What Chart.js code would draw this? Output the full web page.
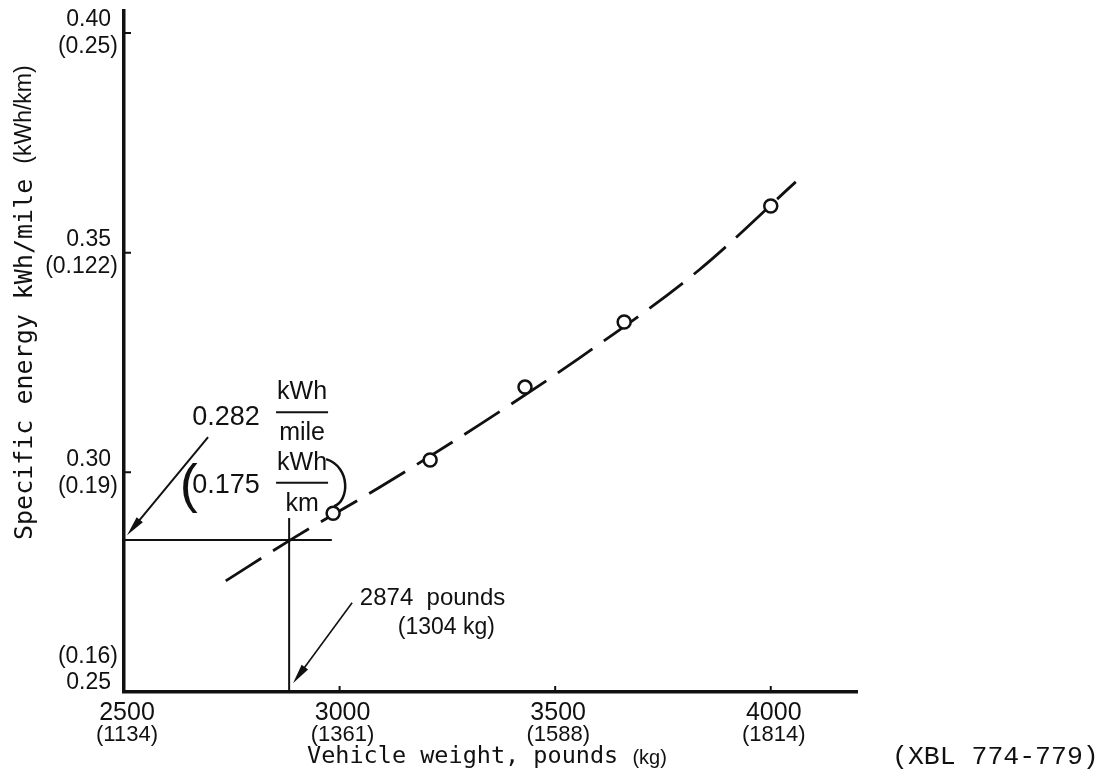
<!DOCTYPE html>
<html>
<head>
<meta charset="utf-8">
<script src="https://cdn.jsdelivr.net/npm/chart.js@4.4.1/dist/chart.umd.min.js"></script>
<style>
    html, body { margin: 0; padding: 0; background: #fff; }
    #wrap { width: 1104px; height: 780px; }
</style>
</head>
<body>
<div id="wrap"><canvas id="chart"></canvas></div>
<script>
// test points: vehicle weight (pounds) vs specific energy (kWh/mile)
const weights = [2985, 3210, 3430, 3660, 4000]
const energy = [0.2907, 0.3028, 0.3194, 0.3342, 0.3606]

// dashed fitted curve
const curveWeights = [2736, 2889, 3093, 3324, 3556, 3833, 4058]
const curveEnergy = [0.2753, 0.2848, 0.2966, 0.3108, 0.3260, 0.3460, 0.3661]

// axis ticks
const xTicks = [2500, 3000, 3500, 4000]
const xTicksKg = ['(1134)', '(1361)', '(1588)', '(1814)']
const yTicks = [0.25, 0.30, 0.35, 0.40]
const yTickLabels = ['0.25', '0.30', '0.35', '0.40']
const yTicksKm = ['(0.16)', '(0.19)', '(0.122)', '(0.25)']

// read-off lines for the design weight
const crossWeight = 2883
const crossEnergy = 0.2846
const crossLineEnd = 2982
const crossLineTop = 0.2896

const SANS = '"Liberation Sans", Arial, sans-serif'
const MONO = '"DejaVu Sans Mono", "Liberation Mono", monospace'
const TYPE = '"Liberation Mono", monospace'

function arrow(ctx, x1, y1, x2, y2) {
    const a = Math.atan2(y2 - y1, x2 - x1)
    const len = 20, half = 4
    ctx.beginPath()
    ctx.moveTo(x1, y1)
    ctx.lineTo(x2 - Math.cos(a) * len * 0.8, y2 - Math.sin(a) * len * 0.8)
    ctx.stroke()
    ctx.beginPath()
    ctx.moveTo(x2, y2)
    ctx.lineTo(x2 - Math.cos(a) * len - Math.sin(a) * half, y2 - Math.sin(a) * len + Math.cos(a) * half)
    ctx.lineTo(x2 - Math.cos(a) * len + Math.sin(a) * half, y2 - Math.sin(a) * len - Math.cos(a) * half)
    ctx.closePath()
    ctx.fill()
}

function fraction(ctx, cx, barY, top, bottom) {
    ctx.font = '25px ' + SANS
    ctx.textAlign = 'center'
    ctx.textBaseline = 'middle'
    ctx.fillText(top, cx, barY - 20)
    ctx.fillText(bottom, cx, barY + 21)
    ctx.lineWidth = 2
    ctx.beginPath()
    ctx.moveTo(cx - 26, barY)
    ctx.lineTo(cx + 26, barY)
    ctx.stroke()
}

const sketch = {
    id: 'sketch',
    beforeDatasetsDraw(chart) {
        const { ctx, scales: { x, y } } = chart
        ctx.save()
        ctx.strokeStyle = '#111'
        ctx.lineWidth = 2
        ctx.beginPath()
        ctx.moveTo(x.getPixelForValue(2500), y.getPixelForValue(crossEnergy))
        ctx.lineTo(x.getPixelForValue(crossLineEnd), y.getPixelForValue(crossEnergy))
        ctx.moveTo(x.getPixelForValue(crossWeight), y.getPixelForValue(0.25))
        ctx.lineTo(x.getPixelForValue(crossWeight), y.getPixelForValue(crossLineTop))
        ctx.stroke()
        ctx.restore()
    },
    afterDraw(chart) {
        const { ctx, scales: { x, y } } = chart
        const P = (xv, yv) => ({ x: x.getPixelForValue(xv), y: y.getPixelForValue(yv) })
        ctx.save()
        ctx.fillStyle = '#111'
        ctx.strokeStyle = '#111'

        // inward tick marks
        ctx.lineWidth = 2
        ctx.beginPath()
        xTicks.slice(1).forEach(v => {
            const px = x.getPixelForValue(v)
            ctx.moveTo(px, y.bottom)
            ctx.lineTo(px, y.bottom - 6)
        })
        yTicks.slice(1).forEach(v => {
            const py = y.getPixelForValue(v)
            ctx.moveTo(x.left, py)
            ctx.lineTo(x.left + 7, py)
        })
        ctx.stroke()

        // y tick labels (mile above km, except at the bottom)
        ctx.font = '23px ' + SANS
        ctx.textAlign = 'right'
        ctx.textBaseline = 'middle'
        yTicks.forEach((v, i) => {
            const py = y.getPixelForValue(v)
            if (i === 0) {
                ctx.fillText(yTicksKm[i], x.left - 6, py - 35)
                ctx.fillText(yTickLabels[i], x.left - 13, py - 9)
            } else {
                ctx.fillText(yTickLabels[i], x.left - 13, py - 13)
                ctx.fillText(yTicksKm[i], x.left - 6, py + 14)
            }
        })

        // x tick labels
        ctx.textAlign = 'center'
        xTicks.forEach((v, i) => {
            const px = x.getPixelForValue(v) + 3
            ctx.font = '25px ' + SANS
            ctx.fillText(String(v), px, y.bottom + 21)
            ctx.font = '22px ' + SANS
            ctx.fillText(xTicksKg[i], px, y.bottom + 43)
        })

        // axis titles
        ctx.textAlign = 'left'
        ctx.font = '23.5px ' + MONO
        const t1 = 'Vehicle weight, pounds '
        ctx.fillText(t1, 307, 757)
        const w1 = ctx.measureText(t1).width
        ctx.font = '20px ' + SANS
        ctx.fillText('(kg)', 307 + w1, 758)

        ctx.save()
        ctx.translate(25, 540)
        ctx.rotate(-Math.PI / 2)
        ctx.font = '25px ' + MONO
        const t2 = 'Specific energy kWh/mile '
        ctx.fillText(t2, 0, 0)
        const w2 = ctx.measureText(t2).width
        ctx.font = '23px ' + SANS
        ctx.fillText('(kWh/km)', w2, 0)
        ctx.restore()

        ctx.font = '26.5px ' + TYPE
        ctx.fillText('(XBL 774-779)', 892, 757)

        // 0.282 kWh/mile note
        ctx.lineWidth = 2
        const a1 = P(2695, 0.3080), a1t = P(2507, 0.2857)
        arrow(ctx, a1.x, a1.y, a1t.x, a1t.y)
        const n1 = P(2815, 0.3124)
        ctx.font = '27px ' + SANS
        ctx.textAlign = 'right'
        ctx.textBaseline = 'middle'
        ctx.fillText('0.282', n1.x, n1.y)
        const f1 = P(2913, 0.3137)
        fraction(ctx, f1.x, f1.y, 'kWh', 'mile')

        // (0.175 kWh/km) note
        const n2 = P(2815, 0.2971)
        ctx.font = '27px ' + SANS
        ctx.textAlign = 'right'
        ctx.fillText('0.175', n2.x, n2.y)
        ctx.font = '54px ' + SANS
        ctx.textAlign = 'left'
        ctx.fillText('(', n2.x - 80, n2.y + 2)
        const f2 = P(2913, 0.2976)
        fraction(ctx, f2.x, f2.y, 'kWh', 'km')
        const p0 = P(weights[0], energy[0])
        ctx.lineWidth = 2.5
        ctx.beginPath()
        ctx.moveTo(p0.x - 7, p0.y - 54)
        ctx.bezierCurveTo(p0.x + 18, p0.y - 46, p0.x + 16, p0.y - 12, p0.x + 1, p0.y - 7)
        ctx.stroke()

        // 2874 pounds note
        ctx.lineWidth = 1.6
        const a2 = P(3029, 0.2703), a2t = P(2892, 0.2520)
        arrow(ctx, a2.x, a2.y, a2t.x, a2t.y)
        const n3 = P(3047, 0.2714)
        ctx.font = '24px ' + SANS
        ctx.textAlign = 'left'
        ctx.fillText('2874  pounds', n3.x, n3.y)
        ctx.font = '23px ' + SANS
        const n4 = P(3135, 0.2646)
        ctx.fillText('(1304 kg)', n4.x, n4.y)

        ctx.restore()
    }
}

new Chart(document.getElementById('chart'), {
    type: 'scatter',
    data: {
        datasets: [{
            data: weights.map((w, i) => ({ x: w, y: energy[i] })),
            pointStyle: 'circle',
            pointRadius: 6.5,
            pointBorderWidth: 2.5,
            pointBorderColor: '#111',
            pointBackgroundColor: '#fff',
            showLine: false,
            order: 1
        }, {
            data: curveWeights.map((w, i) => ({ x: w, y: curveEnergy[i] })),
            showLine: true,
            pointRadius: 0,
            borderColor: '#111',
            borderWidth: 2.8,
            borderDash: [42, 14],
            cubicInterpolationMode: 'monotone',
            order: 2
        }]
    },
    options: {
        responsive: true,
        maintainAspectRatio: false,
        animation: false,
        devicePixelRatio: 1,
        layout: { padding: { top: 11, right: 247, left: 0, bottom: 0 } },
        plugins: {
            legend: { display: false },
            tooltip: { enabled: false }
        },
        scales: {
            x: {
                type: 'linear',
                min: 2500,
                max: 4200,
                grid: { display: false },
                border: { display: true, width: 3.5, color: '#111' },
                ticks: { display: false },
                afterBuildTicks: s => { s.ticks = xTicks.map(v => ({ value: v })) },
                afterFit: s => { s.height = 88 }
            },
            y: {
                type: 'linear',
                min: 0.25,
                max: 0.405,
                grid: { display: false },
                border: { display: true, width: 3.5, color: '#111' },
                ticks: { display: false },
                afterBuildTicks: s => { s.ticks = yTicks.map(v => ({ value: v })) },
                afterFit: s => { s.width = 124 }
            }
        }
    },
    plugins: [sketch]
})
</script>
</body>
</html>
